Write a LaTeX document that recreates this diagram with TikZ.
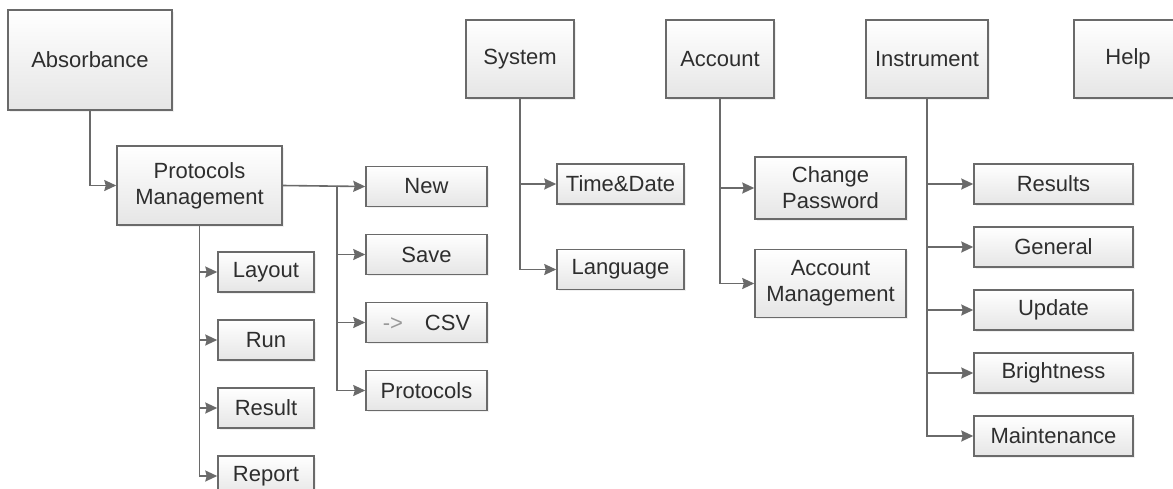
\documentclass[tikz,border=0pt]{standalone}
\usepackage{fontspec}
\setmainfont{Liberation Sans}
\usetikzlibrary{arrows.meta,positioning,shadows}
\definecolor{boxline}{HTML}{6A6A6A}
\definecolor{boxtext}{HTML}{2E2E2E}
\definecolor{linkline}{HTML}{6A6A6A}
\tikzset{
    menu/.style={rectangle,draw=boxline,line width=1.5pt,top color=white,bottom color=black!10,
        text=boxtext,align=center,inner sep=2pt,font=\fontsize{22}{26}\selectfont,
        drop shadow={opacity=0.12,shadow xshift=1.5pt,shadow yshift=-1.5pt}},
    top/.style={menu,minimum height=78pt},
    leaf/.style={menu,minimum height=40pt},
    link/.style={-{Stealth[length=12pt,width=11pt,inset=1.5pt]},line width=1.6pt,draw=linkline}
}

\begin{document}
\begin{tikzpicture}[x=1pt,y=-1pt]

                \useasboundingbox (0,0) rectangle (1173,488);

                \node[menu,minimum width=164pt,minimum height=100pt] (abs)  at (90,60)    {Absorbance};
                \node[top,minimum width=108pt]                        (sys)  at (520,59)   {System};
                \node[top,minimum width=108pt]                        (acc)  at (720,59)   {Account};
                \node[top,minimum width=122pt]                        (ins)  at (927,59)   {Instrument};
                \node[top,minimum width=108pt]                        (help) at (1128,59)  {Help};

                \node[menu,minimum width=165pt,minimum height=79pt] (pm) at (199.5,185.5) {Protocols\\Management};

                \node[leaf,minimum width=121pt] (pm new)   at (426.5,186.5)          {New};
                \node[leaf,minimum width=121pt] (pm save)  [below=26.5pt of pm new]  {Save};
                \node[leaf,minimum width=121pt] (pm csv)   [below=26.5pt of pm save] {\textcolor{black!40}{->}\quad CSV};
                \node[leaf,minimum width=121pt] (pm prot)  [below=26.5pt of pm csv]  {Protocols};

                \node[leaf,minimum width=96pt]  (pm layout) at (266,272)               {Layout};
                \node[leaf,minimum width=96pt]  (pm run)    [below=26.5pt of pm layout] {Run};
                \node[leaf,minimum width=96pt]  (pm result) [below=26.5pt of pm run]    {Result};
                \node[leaf,minimum width=96pt]  (pm report) [below=26.5pt of pm result] {Report};

                \node[leaf,minimum width=127pt] (sys time) at (620.5,184)          {Time\&Date};
                \node[leaf,minimum width=127pt] (sys lang) [below=44pt of sys time] {Language};

                \node[menu,minimum width=151pt,minimum height=62pt] (acc pw)  at (830.5,188)       {Change\\Password};
                \node[menu,minimum width=151pt,minimum height=68pt] (acc man) [below=29pt of acc pw] {Account\\Management};

                \node[leaf,minimum width=159pt] (ins res)    at (1053.5,184)          {Results};
                \node[leaf,minimum width=159pt] (ins gen)    [below=21.5pt of ins res] {General};
                \node[leaf,minimum width=159pt] (ins upd)    [below=21.5pt of ins gen] {Update};
                \node[leaf,minimum width=159pt] (ins bright) [below=21.5pt of ins upd] {Brightness};
                \node[leaf,minimum width=159pt] (ins maint)  [below=21.5pt of ins bright] {Maintenance};

                \coordinate (pm fork) at (337,185.5);

                \draw[link] (abs.south) |- (pm.west);

                \draw[link] (pm.east) -- (pm new.west);
                \draw[link] (pm fork) |- (pm save.west);
                \draw[link] (pm fork) |- (pm csv.west);
                \draw[link] (pm fork) |- (pm prot.west);

                \draw[link] (pm.south) |- (pm layout.west);
                \draw[link] (pm.south) |- (pm run.west);
                \draw[link] (pm.south) |- (pm result.west);
                \draw[link] (pm.south) |- (pm report.west);

                \draw[link] (sys.south) |- (sys time.west);
                \draw[link] (sys.south) |- (sys lang.west);

                \draw[link] (acc.south) |- (acc pw.west);
                \draw[link] (acc.south) |- (acc man.west);

                \draw[link] (ins.south) |- (ins res.west);
                \draw[link] (ins.south) |- (ins gen.west);
                \draw[link] (ins.south) |- (ins upd.west);
                \draw[link] (ins.south) |- (ins bright.west);
                \draw[link] (ins.south) |- (ins maint.west);

            \end{tikzpicture}
\end{document}
